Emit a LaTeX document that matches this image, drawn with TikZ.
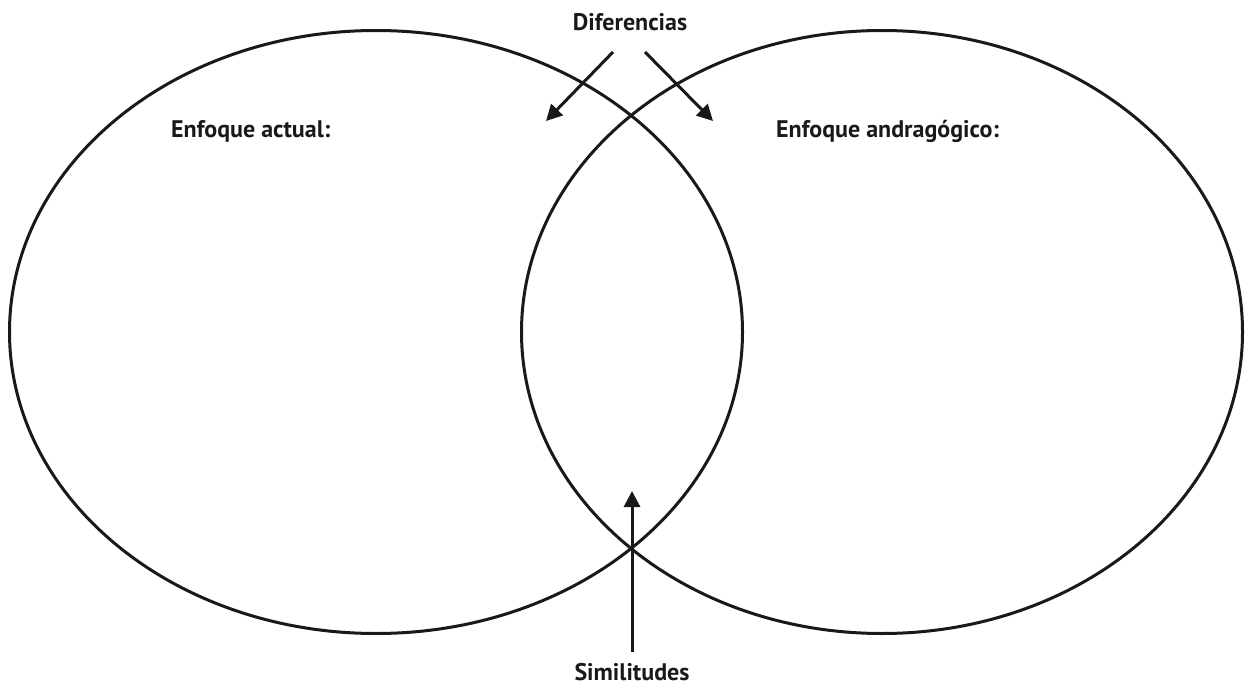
\documentclass[tikz,border=0pt]{standalone}
\usepackage{fontspec}
\setmainfont{PT Sans}
\usetikzlibrary{shapes.geometric,arrows.meta}
\begin{document}
\begin{tikzpicture}[x=1pt,y=-1pt,
  ring/.style={ellipse,draw=black!90,line width=3pt,inner sep=0pt},
  lbl/.style={font=\bfseries\fontsize{24}{28}\selectfont,text=black!90,inner sep=0pt},
  arr/.style={draw=black!90,line width=3pt,-{Triangle[length=16pt,width=16pt]}}]
\useasboundingbox (0,0) rectangle (1245,690);
\node[ring,minimum width=733pt,minimum height=603pt] (L) at (376,332) {};
\node[ring,minimum width=721pt,minimum height=603pt] (R) at (882,332) {};
\node[lbl] (dif) at (630,22) {Diferencias};
\node[lbl] (sim) at (632,672) {Similitudes};
\node[lbl,anchor=west] (ea) at (171,131) {Enfoque actual:};
\node[lbl,anchor=west] (ean) at (776,131) {Enfoque andragógico:};
\coordinate (d1s) at (613,52);
\coordinate (d1e) at (546,121);
\coordinate (d2s) at (645,52);
\coordinate (d2e) at (713,121);
\coordinate (s1s) at (632,652);
\coordinate (s1e) at (632,491);
\draw[arr] (d1s) -- (d1e);
\draw[arr] (d2s) -- (d2e);
\draw[arr] (s1s) -- (s1e);
\end{tikzpicture}
\end{document}
